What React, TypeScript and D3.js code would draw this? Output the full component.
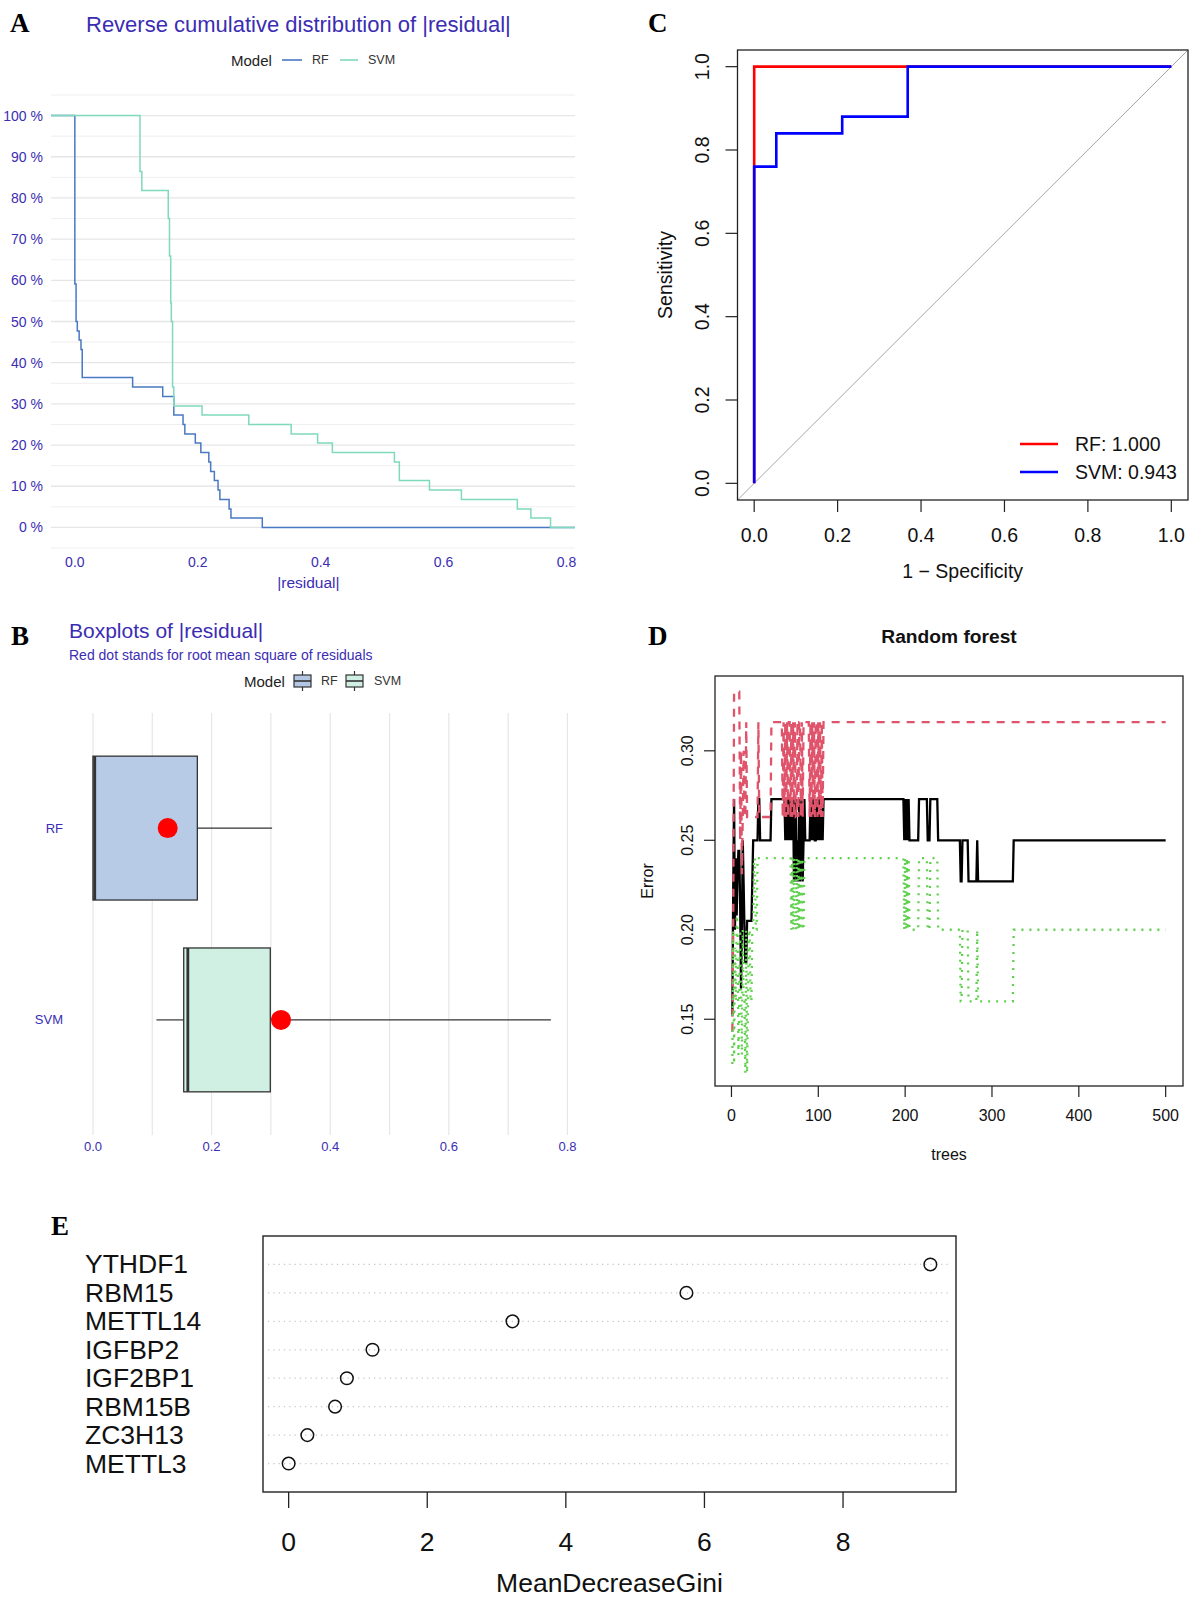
import React from "react";
import * as d3 from "d3";

const SANS = "'Liberation Sans', Arial, Helvetica, sans-serif";
const SERIF = "'Liberation Serif', 'Times New Roman', serif";
const GG_TEXT = "#3b2db3";

// ---------- Panel A: reverse cumulative distribution ----------
const ecdfModels = ["RF", "SVM"];
const ecdfColors = ["#4a78c2", "#7fd9bd"];
const rfResidX = [0.0, 0.002, 0.004, 0.007, 0.01, 0.012, 0.094, 0.143, 0.161, 0.176, 0.179, 0.196, 0.205, 0.218, 0.221, 0.227, 0.233, 0.236, 0.251, 0.254, 0.305];
const rfResidY = [0.591, 0.5, 0.477, 0.455, 0.432, 0.364, 0.341, 0.318, 0.273, 0.25, 0.227, 0.205, 0.182, 0.159, 0.136, 0.114, 0.091, 0.068, 0.045, 0.023, 0.0];
const svmResidX = [0.106, 0.109, 0.152, 0.154, 0.156, 0.157, 0.159, 0.161, 0.207, 0.283, 0.352, 0.395, 0.419, 0.52, 0.528, 0.577, 0.629, 0.72, 0.742, 0.774];
const svmResidY = [0.864, 0.818, 0.75, 0.659, 0.545, 0.5, 0.341, 0.295, 0.273, 0.25, 0.227, 0.205, 0.182, 0.159, 0.114, 0.091, 0.068, 0.045, 0.023, 0.0];
const pctTicks = [0, 0.1, 0.2, 0.3, 0.4, 0.5, 0.6, 0.7, 0.8, 0.9, 1.0];
const residTicks = [0, 0.2, 0.4, 0.6, 0.8];

// ---------- Panel B: boxplots ----------
const boxModels = ["RF", "SVM"];
const boxFills = ["#b3c7e5", "#cfefe3"];
const boxPos = [2, 1];
const boxQ1 = [0.0, 0.153];
const boxMedian = [0.003, 0.16];
const boxQ3 = [0.176, 0.299];
const boxLowWhisker = [0.0, 0.107];
const boxHighWhisker = [0.302, 0.772];
const boxRms = [0.126, 0.317];
const boxGrid = [0, 0.1, 0.2, 0.3, 0.4, 0.5, 0.6, 0.7, 0.8];

// ---------- Panel C: ROC ----------
const rocRfFpr = [0, 0, 1];
const rocRfTpr = [0, 1, 1];
const rocSvmFpr = [0, 0, 0.053, 0.053, 0.211, 0.211, 0.368, 0.368, 1];
const rocSvmTpr = [0, 0.76, 0.76, 0.84, 0.84, 0.88, 0.88, 1, 1];
const rocLegend = ["RF: 1.000", "SVM: 0.943"];
const rocColors = ["#ff0000", "#0000ff"];
const rocTicks = [0, 0.2, 0.4, 0.6, 0.8, 1.0];

// ---------- Panel D: random forest error (step runs: [first tree, value]) ----------
const oobRuns: [number, number][] = [
  [1, 0.152], [2, 0.222], [3, 0.273], [4, 0.2], [5, 0.24], [6, 0.208], [7, 0.231], [8, 0.244], [10, 0.214],
  [11, 0.167], [12, 0.2], [13, 0.25], [14, 0.226], [15, 0.2], [16, 0.182], [18, 0.205],
  [24, 0.227], [25, 0.25], [31, 0.273], [33, 0.25], [46, 0.273], [62, 0.25], [63, 0.273], [64, 0.25], [65, 0.273], [66, 0.25],
  [67, 0.273], [68, 0.25], [69, 0.273], [70, 0.25], [71, 0.273], [72, 0.227], [73, 0.25], [74, 0.273],
  [75, 0.227], [76, 0.25], [77, 0.227], [78, 0.273], [79, 0.227], [80, 0.25], [81, 0.273], [82, 0.227],
  [83, 0.25], [84, 0.273], [85, 0.25], [91, 0.273], [92, 0.25], [93, 0.273], [94, 0.25], [95, 0.273], [96, 0.25], [98, 0.273], [99, 0.25], [100, 0.273],
  [101, 0.25], [102, 0.273], [103, 0.25], [104, 0.273], [105, 0.25], [106, 0.273], [199, 0.25],
  [200, 0.273], [201, 0.25], [202, 0.273], [203, 0.25], [204, 0.273], [205, 0.25], [216, 0.273],
  [226, 0.25], [229, 0.273], [238, 0.25], [264, 0.227], [266, 0.25], [273, 0.227], [283, 0.25],
  [284, 0.227], [325, 0.25],
];
const class1Runs: [number, number][] = [
  [1, 0.143], [2, 0.2], [3, 0.333], [10, 0.25], [11, 0.3], [12, 0.231], [13, 0.263], [14, 0.3], [15, 0.263],
  [17, 0.316], [18, 0.263], [31, 0.316], [32, 0.263], [46, 0.316], [59, 0.263], [60, 0.316], [61, 0.263],
  [62, 0.316], [63, 0.263], [64, 0.316], [65, 0.263], [66, 0.316], [68, 0.263], [69, 0.316], [70, 0.263],
  [71, 0.316], [72, 0.263], [73, 0.316], [74, 0.263], [76, 0.316], [77, 0.263], [78, 0.316], [80, 0.263],
  [81, 0.316], [82, 0.263], [83, 0.316], [90, 0.263], [91, 0.316], [92, 0.263], [93, 0.316], [94, 0.263],
  [95, 0.316], [96, 0.263], [97, 0.316], [99, 0.263], [100, 0.316], [101, 0.263], [102, 0.316],
  [103, 0.263], [104, 0.316], [105, 0.263], [106, 0.316],
];
const class2Runs: [number, number][] = [
  [1, 0.125], [2, 0.2], [3, 0.125], [4, 0.19], [5, 0.16], [6, 0.208], [7, 0.2], [8, 0.13], [9, 0.16],
  [10, 0.2], [11, 0.167], [12, 0.13], [13, 0.2], [14, 0.16], [16, 0.12], [17, 0.2], [18, 0.12], [19, 0.16],
  [20, 0.2], [22, 0.16], [24, 0.2], [26, 0.24], [28, 0.2], [30, 0.24], [69, 0.2], [70, 0.24], [71, 0.2],
  [72, 0.24], [73, 0.2], [75, 0.24], [76, 0.2], [77, 0.24], [78, 0.2], [79, 0.24], [80, 0.2], [81, 0.24],
  [82, 0.2], [84, 0.24], [199, 0.2], [200, 0.24], [201, 0.2], [202, 0.24], [203, 0.2], [204, 0.24],
  [205, 0.2], [216, 0.24], [226, 0.2], [229, 0.24], [238, 0.2], [264, 0.16], [266, 0.2], [273, 0.16],
  [283, 0.2], [284, 0.16], [325, 0.2],
];
const nTrees = 500;
const treeTicks = [0, 100, 200, 300, 400, 500];
const errorTicks = [0.15, 0.2, 0.25, 0.3];

// ---------- Panel E: MeanDecreaseGini ----------
const giniGenes = ["METTL3", "ZC3H13", "RBM15B", "IGF2BP1", "IGFBP2", "METTL14", "RBM15", "YTHDF1"];
const giniValues = [0.0, 0.27, 0.67, 0.84, 1.21, 3.23, 5.74, 9.26];
const giniTicks = [0, 2, 4, 6, 8];

function expandRuns(runs: [number, number][], n: number): [number, number][] {
  const out: [number, number][] = [];
  let k = 0;
  for (let t = 1; t <= n; t++) {
    while (k + 1 < runs.length && runs[k + 1][0] <= t) k++;
    out.push([t, runs[k][1]]);
  }
  return out;
}

function PanelA() {
  const x = d3.scaleLinear().domain([-0.0388, 0.8138]).range([51, 575]);
  const y = d3.scaleLinear().domain([-0.05, 1.05]).range([548, 95]);
  const minor = d3.range(-0.05, 1.1, 0.1);
  const line = d3.line<[number, number]>().x((d) => x(d[0])).y((d) => y(d[1])).curve(d3.curveStepAfter);
  const series = [
    [[x.domain()[0], 1] as [number, number], ...rfResidX.map((v, i) => [v, rfResidY[i]] as [number, number]), [x.domain()[1], 0] as [number, number]],
    [[x.domain()[0], 1] as [number, number], ...svmResidX.map((v, i) => [v, svmResidY[i]] as [number, number]), [x.domain()[1], 0] as [number, number]],
  ];
  return (
    <g>
      <text x={10} y={32} fontFamily={SERIF} fontWeight="bold" fontSize={27}>A</text>
      <text x={86} y={32} fontFamily={SANS} fontSize={22} fill={GG_TEXT}>Reverse cumulative distribution of |residual|</text>
      <text x={231} y={60} dominantBaseline="central" fontFamily={SANS} fontSize={15} fill="#222">Model</text>
      {ecdfModels.map((m, i) => (
        <g key={m}>
          <line x1={i === 0 ? 282 : 340} x2={i === 0 ? 302 : 358} y1={60} y2={60} stroke={ecdfColors[i]} strokeWidth={1.6} />
          <text x={i === 0 ? 312 : 368} y={60} dominantBaseline="central" fontFamily={SANS} fontSize={12.5} fill="#333">{m}</text>
        </g>
      ))}
      {minor.map((v) => (
        <line key={"mi" + v} x1={51} x2={575} y1={y(v)} y2={y(v)} stroke="#ededed" strokeWidth={0.9} />
      ))}
      {pctTicks.map((v) => (
        <g key={"ma" + v}>
          <line x1={51} x2={575} y1={y(v)} y2={y(v)} stroke="#e6e6e6" strokeWidth={1.3} />
          <text x={43} y={y(v)} textAnchor="end" dominantBaseline="central" fontFamily={SANS} fontSize={14} fill={GG_TEXT}>{Math.round(v * 100) + " %"}</text>
        </g>
      ))}
      {residTicks.map((v) => (
        <text key={"xt" + v} x={x(v)} y={567} textAnchor="middle" fontFamily={SANS} fontSize={14} fill={GG_TEXT}>{v.toFixed(1)}</text>
      ))}
      <text x={x(0.38)} y={588} textAnchor="middle" fontFamily={SANS} fontSize={15.5} fill={GG_TEXT}>|residual|</text>
      {series.map((s, i) => (
        <path key={"s" + i} d={line(s) || ""} fill="none" stroke={ecdfColors[i]} strokeWidth={1.5} />
      ))}
    </g>
  );
}

function PanelB() {
  const x = d3.scaleLinear().domain([-0.0387, 0.8127]).range([70, 575]);
  const y = d3.scaleLinear().domain([0.4, 2.6]).range([1135, 713]);
  const half = (y(0) - y(0.375));
  return (
    <g>
      <text x={11} y={645} fontFamily={SERIF} fontWeight="bold" fontSize={27}>B</text>
      <text x={69} y={638} fontFamily={SANS} fontSize={21} fill={GG_TEXT}>Boxplots of |residual|</text>
      <text x={69} y={660} fontFamily={SANS} fontSize={14} fill={GG_TEXT}>Red dot stands for root mean square of residuals</text>
      <text x={244} y={681} dominantBaseline="central" fontFamily={SANS} fontSize={15} fill="#222">Model</text>
      {boxModels.map((m, i) => {
        const kx = i === 0 ? 294 : 346;
        return (
          <g key={"lk" + m}>
            <line x1={kx + 8.5} x2={kx + 8.5} y1={671} y2={691} stroke="#333" strokeWidth={1.2} />
            <rect x={kx} y={675} width={17} height={12} fill={boxFills[i]} stroke="#333" strokeWidth={1.2} />
            <line x1={kx} x2={kx + 17} y1={681} y2={681} stroke="#333" strokeWidth={1.6} />
            <text x={i === 0 ? 321 : 374} y={681} dominantBaseline="central" fontFamily={SANS} fontSize={12.5} fill="#333">{m}</text>
          </g>
        );
      })}
      {boxGrid.map((v) => (
        <line key={"g" + v} x1={x(v)} x2={x(v)} y1={713} y2={1135} stroke="#e6e6e6" strokeWidth={1.2} />
      ))}
      {boxGrid.filter((_, i) => i % 2 === 0).map((v) => (
        <text key={"t" + v} x={x(v)} y={1151} textAnchor="middle" fontFamily={SANS} fontSize={13} fill={GG_TEXT}>{v.toFixed(1)}</text>
      ))}
      {boxModels.map((m, i) => {
        const cy = y(boxPos[i]);
        return (
          <g key={"b" + m}>
            <text x={63} y={cy} textAnchor="end" dominantBaseline="central" fontFamily={SANS} fontSize={13} fill={GG_TEXT}>{m}</text>
            <line x1={x(boxLowWhisker[i])} x2={x(boxQ1[i])} y1={cy} y2={cy} stroke="#333" strokeWidth={1.2} />
            <line x1={x(boxQ3[i])} x2={x(boxHighWhisker[i])} y1={cy} y2={cy} stroke="#333" strokeWidth={1.2} />
            <rect x={x(boxQ1[i])} y={cy - half} width={x(boxQ3[i]) - x(boxQ1[i])} height={2 * half} fill={boxFills[i]} fillOpacity={0.95} stroke="#333" strokeWidth={1.3} />
            <line x1={x(boxMedian[i])} x2={x(boxMedian[i])} y1={cy - half} y2={cy + half} stroke="#333" strokeWidth={2.8} />
            <circle cx={x(boxRms[i])} cy={cy} r={10} fill="#ff0000" />
          </g>
        );
      })}
    </g>
  );
}

function PanelC() {
  const x = d3.scaleLinear().domain([-0.04, 1.04]).range([737.5, 1188]);
  const y = d3.scaleLinear().domain([-0.04, 1.04]).range([500, 50]);
  const rfPath = d3.line<number>().x((d) => x(d)).y((_, i) => y(rocRfTpr[i]))(rocRfFpr) || "";
  const svmPath = d3.line<number>().x((d) => x(d)).y((_, i) => y(rocSvmTpr[i]))(rocSvmFpr) || "";
  return (
    <g fontFamily={SANS}>
      <text x={648} y={32} fontFamily={SERIF} fontWeight="bold" fontSize={27}>C</text>
      <line x1={x(-0.04)} y1={y(-0.04)} x2={x(1.04)} y2={y(1.04)} stroke="#a6a6a6" strokeWidth={1} />
      <path d={rfPath} fill="none" stroke={rocColors[0]} strokeWidth={2.6} />
      <path d={svmPath} fill="none" stroke={rocColors[1]} strokeWidth={2.6} />
      <rect x={737.5} y={50} width={1188 - 737.5} height={450} fill="none" stroke="#222" strokeWidth={1.3} />
      {rocTicks.map((v) => (
        <g key={"x" + v}>
          <line x1={x(v)} x2={x(v)} y1={500} y2={512} stroke="#222" strokeWidth={1.2} />
          <text x={x(v)} y={542} textAnchor="middle" fontSize={19.5} fill="#111">{v.toFixed(1)}</text>
          <line x1={737.5} x2={725.5} y1={y(v)} y2={y(v)} stroke="#222" strokeWidth={1.2} />
          <text transform={`translate(709,${y(v)}) rotate(-90)`} textAnchor="middle" fontSize={19.5} fill="#111">{v.toFixed(1)}</text>
        </g>
      ))}
      <text x={962.7} y={578} textAnchor="middle" fontSize={19.5} fill="#111">1 − Specificity</text>
      <text transform="translate(672,275) rotate(-90)" textAnchor="middle" fontSize={19.5} fill="#111">Sensitivity</text>
      {rocLegend.map((l, i) => (
        <g key={l}>
          <line x1={1020} x2={1058} y1={444 + i * 28} y2={444 + i * 28} stroke={rocColors[i]} strokeWidth={2.6} />
          <text x={1075} y={444 + i * 28} dominantBaseline="central" fontSize={19.5} fill="#111">{l}</text>
        </g>
      ))}
    </g>
  );
}

function PanelD() {
  const x = d3.scaleLinear().domain([-18.96, 519.96]).range([715, 1183]);
  const y = d3.scaleLinear().domain([0.1127, 0.3418]).range([1086, 676]);
  const line = d3.line<[number, number]>().x((d) => x(d[0])).y((d) => y(d[1]));
  const oob = line(expandRuns(oobRuns, nTrees)) || "";
  const c1 = line(expandRuns(class1Runs, nTrees)) || "";
  const c2 = line(expandRuns(class2Runs, nTrees)) || "";
  return (
    <g fontFamily={SANS}>
      <text x={648} y={645} fontFamily={SERIF} fontWeight="bold" fontSize={27}>D</text>
      <text x={949} y={643} textAnchor="middle" fontWeight="bold" fontSize={19.2} fill="#111">Random forest</text>
      <path d={oob} fill="none" stroke="#000" strokeWidth={2.3} />
      <path d={c1} fill="none" stroke="#DF536B" strokeWidth={2.3} strokeDasharray="8,7" />
      <path d={c2} fill="none" stroke="#61D04F" strokeWidth={2.3} strokeDasharray="2,6" />
      <rect x={715} y={676} width={468} height={410} fill="none" stroke="#222" strokeWidth={1.3} />
      {treeTicks.map((v) => (
        <g key={"t" + v}>
          <line x1={x(v)} x2={x(v)} y1={1086} y2={1097} stroke="#222" strokeWidth={1.2} />
          <text x={x(v)} y={1121} textAnchor="middle" fontSize={16} fill="#111">{v}</text>
        </g>
      ))}
      {errorTicks.map((v) => (
        <g key={"e" + v}>
          <line x1={715} x2={704} y1={y(v)} y2={y(v)} stroke="#222" strokeWidth={1.2} />
          <text transform={`translate(693,${y(v)}) rotate(-90)`} textAnchor="middle" fontSize={16} fill="#111">{v.toFixed(2)}</text>
        </g>
      ))}
      <text x={949} y={1160} textAnchor="middle" fontSize={16} fill="#111">trees</text>
      <text transform="translate(653,881) rotate(-90)" textAnchor="middle" fontSize={16} fill="#111">Error</text>
    </g>
  );
}

function PanelE() {
  const x = d3.scaleLinear().domain([-0.37, 9.63]).range([263, 956]);
  const y = d3.scaleLinear().domain([0, 9]).range([1492, 1236]);
  return (
    <g fontFamily={SANS}>
      <text x={51} y={1235} fontFamily={SERIF} fontWeight="bold" fontSize={27}>E</text>
      {giniGenes.map((g, i) => (
        <g key={g}>
          <line x1={268} x2={951} y1={y(i + 1)} y2={y(i + 1)} stroke="#c8c8c8" strokeWidth={1.2} strokeDasharray="1.3,4" />
          <text x={85} y={y(i + 1)} dominantBaseline="central" fontSize={26.5} fill="#111">{g}</text>
          <circle cx={x(giniValues[i])} cy={y(i + 1)} r={6.3} fill="none" stroke="#111" strokeWidth={1.5} />
        </g>
      ))}
      <rect x={263} y={1236} width={693} height={256} fill="none" stroke="#222" strokeWidth={1.4} />
      {giniTicks.map((v) => (
        <g key={"gt" + v}>
          <line x1={x(v)} x2={x(v)} y1={1492} y2={1508} stroke="#222" strokeWidth={1.3} />
          <text x={x(v)} y={1551} textAnchor="middle" fontSize={26.5} fill="#111">{v}</text>
        </g>
      ))}
      <text x={609.5} y={1592} textAnchor="middle" fontSize={26.5} fill="#111">MeanDecreaseGini</text>
    </g>
  );
}

export default function App() {
  return (
    <svg width={1192} height={1598} viewBox="0 0 1192 1598" style={{ position: "absolute", left: 0, top: 0, background: "#fff" }}>
      <rect x={0} y={0} width={1192} height={1598} fill="#fff" />
      <PanelA />
      <PanelB />
      <PanelC />
      <PanelD />
      <PanelE />
    </svg>
  );
}
